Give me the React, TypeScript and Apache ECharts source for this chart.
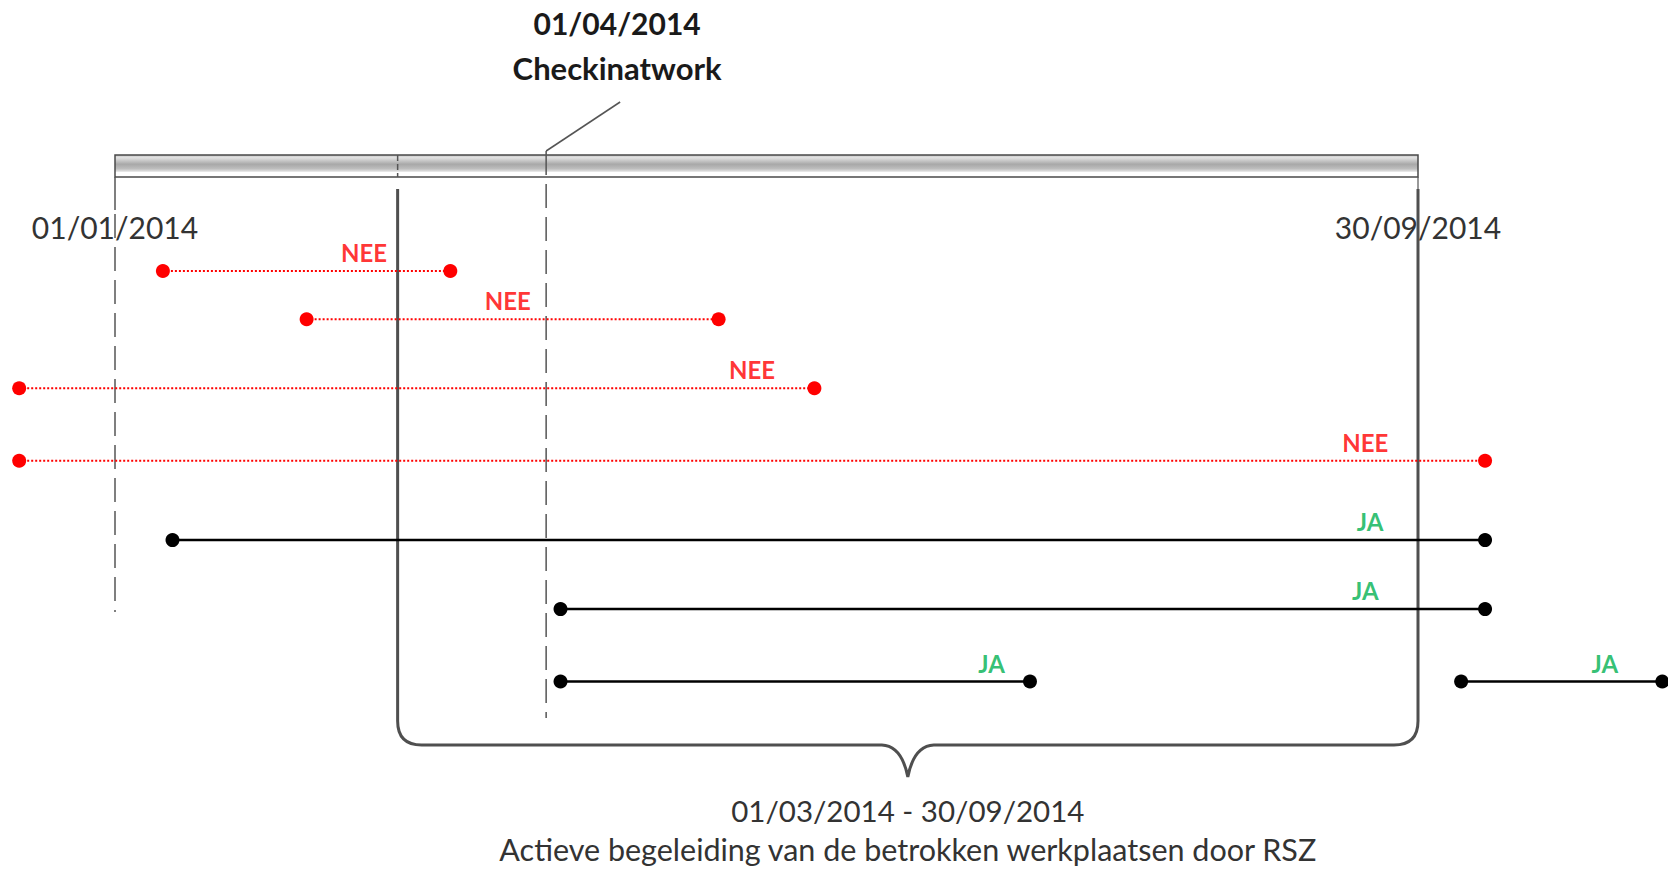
import React, { useEffect, useRef } from "react";
import * as echarts from "echarts";

// ---- data ----
const rowStatus = ["NEE", "NEE", "NEE", "NEE", "JA", "JA", "JA", "JA"];
const rowStart = ["2014-01-11", "2014-02-10", "2013-12-12", "2013-12-12", "2014-01-13", "2014-04-04", "2014-04-04", "2014-10-09"];
const rowEnd = ["2014-03-12", "2014-05-07", "2014-05-27", "2014-10-14", "2014-10-14", "2014-10-14", "2014-07-11", "2014-11-20"];
const rowLabelDate = ["2014-02-22", "2014-03-24", "2014-05-14", "2014-09-19", "2014-09-20", "2014-09-19", "2014-07-03", "2014-11-08"];
const rowLane = [1, 1.7, 2.7, 3.75, 4.9, 5.9, 6.95, 6.95];

const periodStart = "2014-01-01";
const periodEnd = "2014-09-30";
const checkinDate = "2014-04-01";
const guidanceStart = "2014-03-01";
const checkinName = "Checkinatwork";
const guidanceText = "Actieve begeleiding van de betrokken werkplaatsen door RSZ";

const ts = (s: string) => {
  const [y, m, d] = s.split("-").map(Number);
  return Date.UTC(y, m - 1, d);
};
const fmt = (s: string) => s.split("-").reverse().join("/");

const RED = "#ff0000";
const GREEN = "#00b050";
const FONT = "Lato, 'Open Sans', sans-serif";

// layout: the period runs from x=115 to x=1418 on a 1668px wide canvas
const W = 1668;
const PX_START = 115;
const PX_END = 1418;

export default function App() {
  const ref = useRef<HTMLDivElement>(null);
  useEffect(() => {
    if (!ref.current) return;
    const chart = echarts.init(ref.current, undefined, { renderer: "svg" });

    const t0 = ts(periodStart);
    const t1 = ts(periodEnd);
    const msPerPx = (t1 - t0) / (PX_END - PX_START);
    const xMin = t0 - PX_START * msPerPx;
    const xMax = t1 + (W - PX_END) * msPerPx;

    const rowSeries = rowStatus.map((st, i) => {
      const nee = st === "NEE";
      return {
        type: "line",
        clip: false,
        silent: true,
        z: 3,
        symbol: "circle",
        symbolSize: 14,
        showSymbol: true,
        data: [
          [ts(rowStart[i]), rowLane[i]],
          [ts(rowEnd[i]), rowLane[i]],
        ],
        lineStyle: nee
          ? { color: RED, width: 2, type: [2, 2] }
          : { color: "#000", width: 2.5, type: "solid" },
        itemStyle: { color: nee ? RED : "#000" },
      };
    });

    const labelSeries = {
      type: "scatter",
      clip: false,
      silent: true,
      z: 4,
      symbolSize: 1,
      itemStyle: { color: "transparent" },
      data: rowStatus.map((st, i) => ({
        name: st,
        value: [ts(rowLabelDate[i]), rowLane[i]],
        label: { color: st === "NEE" ? RED : GREEN },
      })),
      label: {
        show: true,
        position: "top",
        distance: 6,
        formatter: "{b}",
        fontFamily: FONT,
        fontWeight: "bold",
        fontSize: 24,
      },
    };

    const decoSeries = {
      type: "custom",
      clip: false,
      silent: true,
      z: 1,
      data: [[t0, 0]],
      renderItem: (params: any, api: any) => {
        const X = (s: string) => api.coord([ts(s), 0])[0];
        const xs = X(periodStart);
        const xe = X(periodEnd);
        const xc = X(checkinDate);
        const xg = X(guidanceStart);
        const barTop = 155;
        const barH = 22;
        const braceTop = 189;
        const braceBot = 745;
        const tipY = 777;
        const r = 24;
        const mid = (xg + xe) / 2;
        const braceD =
          `M${xg},${braceTop} V${braceBot - r} Q${xg},${braceBot} ${xg + r},${braceBot} ` +
          `H${mid - 26} Q${mid - 6},${braceBot + 1} ${mid},${tipY} ` +
          `Q${mid + 6},${braceBot + 1} ${mid + 26},${braceBot} ` +
          `H${xe - r} Q${xe},${braceBot} ${xe},${braceBot - r} V${braceTop}`;
        const gray = "#555";
        const textColor = "#333";
        return {
          type: "group",
          children: [
            {
              type: "rect",
              shape: { x: xs, y: barTop, width: xe - xs, height: barH },
              style: {
                fill: new echarts.graphic.LinearGradient(0, 0, 0, 1, [
                  { offset: 0, color: "#c4c4c4" },
                  { offset: 0.12, color: "#e2e2e2" },
                  { offset: 0.42, color: "#a8a8a8" },
                  { offset: 0.62, color: "#bdbdbd" },
                  { offset: 0.74, color: "#dedede" },
                  { offset: 0.78, color: "#ffffff" },
                  { offset: 0.93, color: "#ffffff" },
                  { offset: 1, color: "#ffffff" },
                ]),
                stroke: "#4a4a4a",
                lineWidth: 1.5,
              },
            },
            { type: "line", shape: { x1: xg, y1: barTop, x2: xg, y2: barTop + barH }, style: { stroke: gray, lineWidth: 1.5, lineDash: [6, 3] } },
            { type: "line", shape: { x1: xs, y1: barTop + barH, x2: xs, y2: 210 }, style: { stroke: gray, lineWidth: 1.5 } },
            { type: "line", shape: { x1: xs, y1: 214, x2: xs, y2: 612 }, style: { stroke: gray, lineWidth: 1.5, lineDash: [24, 9] } },
            { type: "line", shape: { x1: xe, y1: barTop + barH, x2: xe, y2: braceTop }, style: { stroke: gray, lineWidth: 1.2 } },
            { type: "line", shape: { x1: xc, y1: 151, x2: xc, y2: 718 }, style: { stroke: gray, lineWidth: 1.5, lineDash: [24, 9] } },
            { type: "line", shape: { x1: xc, y1: 151, x2: xc + 74, y2: 102 }, style: { stroke: gray, lineWidth: 1.5 } },
            { type: "path", shape: { pathData: braceD }, style: { fill: "none", stroke: "#4f4f4f", lineWidth: 3 } },
            { type: "text", x: xc + 71, y: 23, style: { text: fmt(checkinDate), fill: "#1a1a1a", font: `bold 30px ${FONT}`, align: "center", verticalAlign: "middle" } },
            { type: "text", x: xc + 71, y: 68, style: { text: checkinName, fill: "#1a1a1a", font: `bold 31px ${FONT}`, align: "center", verticalAlign: "middle" } },
            { type: "text", x: xs, y: 227, style: { text: fmt(periodStart), fill: textColor, font: `30px ${FONT}`, align: "center", verticalAlign: "middle" } },
            { type: "text", x: xe, y: 227, style: { text: fmt(periodEnd), fill: textColor, font: `30px ${FONT}`, align: "center", verticalAlign: "middle" } },
            { type: "text", x: mid, y: 810, style: { text: `${fmt(guidanceStart)} - ${fmt(periodEnd)}`, fill: textColor, font: `29.5px ${FONT}`, align: "center", verticalAlign: "middle" } },
            { type: "text", x: mid, y: 849, style: { text: guidanceText, fill: textColor, font: `30.5px ${FONT}`, align: "center", verticalAlign: "middle" } },
          ],
        };
      },
    };

    chart.setOption({
      animation: false,
      backgroundColor: "#fff",
      grid: { left: 0, top: 202, width: W, height: 621 },
      xAxis: { type: "time", min: xMin, max: xMax, show: false },
      yAxis: { type: "value", min: 0, max: 9, inverse: true, show: false },
      series: [decoSeries, ...rowSeries, labelSeries],
    });
    return () => chart.dispose();
  }, []);
  return (
    <div
      ref={ref}
      style={{ position: "fixed", left: 0, top: 0, width: "1668px", height: "869px", background: "#fff" }}
    />
  );
}
